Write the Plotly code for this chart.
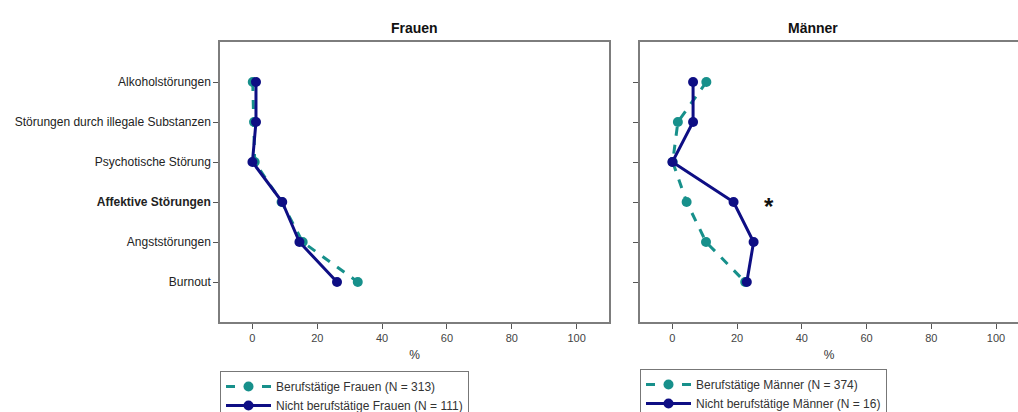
import plotly.graph_objects as go

categories = ["Alkoholstörungen", "Störungen durch illegale Substanzen", "Psychotische Störung",
              "Affektive Störungen", "Angststörungen", "Burnout"]
tick_labels = ["Alkoholstörungen", "Störungen durch illegale Substanzen", "Psychotische Störung",
               "<b>Affektive Störungen</b>", "Angststörungen", "Burnout"]
x_ticks = [0, 20, 40, 60, 80, 100]

frauen_beruf = [0.1, 0.5, 0.7, 9.0, 15.5, 32.5]
frauen_nicht = [1.1, 1.1, 0.0, 9.2, 14.5, 26.1]
maenner_beruf = [10.5, 1.7, 0.1, 4.4, 10.4, 22.5]
maenner_nicht = [6.4, 6.4, 0.0, 18.9, 25.1, 23.0]

names_f = ["Berufstätige Frauen (N = 313)", "Nicht berufstätige Frauen (N = 111)"]
names_m = ["Berufstätige Männer (N = 374)", "Nicht berufstätige Männer (N = 16)"]

TEAL = "#17908b"
NAVY = "#0e0e84"
W, H = 1018, 412
FONT = "Liberation Sans, Arial, sans-serif"

ypos = list(range(len(categories)))

fig = go.Figure()

def add(xv, name, color, dash, xa, ya, leg):
    fig.add_trace(go.Scatter(
        x=xv, y=ypos, mode="lines+markers", name=name,
        line=dict(color=color, width=3, dash=dash),
        marker=dict(color=color, size=10),
        xaxis=xa, yaxis=ya, legend=leg))

add(frauen_beruf, names_f[0], TEAL, "dash", "x", "y", "legend")
add(frauen_nicht, names_f[1], NAVY, "solid", "x", "y", "legend")
add(maenner_beruf, names_m[0], TEAL, "dash", "x2", "y2", "legend2")
add(maenner_nicht, names_m[1], NAVY, "solid", "x2", "y2", "legend2")

top, bottom = 42, 322
ph = bottom - top

def px(x):
    return x / W

def py(y):
    return (bottom - y) / ph

axis_line = dict(showline=True, linecolor="#7d7d7d", linewidth=1.5, ticks="outside",
                 ticklen=5, tickcolor="#555", showgrid=False, zeroline=False)
xfont = dict(family=FONT, size=11, color="#444")
yfont = dict(family=FONT, size=12, color="#222")

fig.update_layout(
    width=W, height=H, plot_bgcolor="white", paper_bgcolor="white",
    margin=dict(l=0, r=0, t=top, b=H - bottom, autoexpand=False),
    font=dict(family=FONT, size=11, color="#222"),
    xaxis=dict(domain=[px(220), px(609)], range=[-10, 110], tickvals=x_ticks, mirror=True,
               tickfont=xfont,
               title=dict(text="%", font=dict(family=FONT, size=12, color="#333"), standoff=8),
               automargin=False, **axis_line),
    yaxis=dict(domain=[0, 1], range=[6, -1], tickvals=ypos, ticktext=tick_labels, mirror=True,
               tickfont=yfont, automargin=False, **axis_line),
    xaxis2=dict(domain=[px(640), 1.0], range=[-10, (1018 - 672) / 3.24], tickvals=x_ticks,
                mirror=True, anchor="y2", tickfont=xfont,
                title=dict(text="%", font=dict(family=FONT, size=12, color="#333"), standoff=8),
                automargin=False, **axis_line),
    yaxis2=dict(domain=[0, 1], range=[6, -1], tickvals=ypos, showticklabels=False, anchor="x2",
                automargin=False, **axis_line),
    legend=dict(x=px(220), y=py(371), xanchor="left", yanchor="top",
                bordercolor="#777", borderwidth=1, bgcolor="white",
                font=dict(family=FONT, size=12, color="#333"), tracegroupgap=0,
                itemwidth=45),
    legend2=dict(x=px(640), y=py(369), xanchor="left", yanchor="top",
                 bordercolor="#777", borderwidth=1, bgcolor="white",
                 font=dict(family=FONT, size=12, color="#333"), tracegroupgap=0,
                 itemwidth=45),
    showlegend=True,
)

fig.add_annotation(x=414 / W, y=py(18), xref="paper", yref="paper", text="<b>Frauen</b>",
                   showarrow=False, font=dict(family=FONT, size=14, color="#111"))
fig.add_annotation(x=840 / W, y=py(18), xref="paper", yref="paper", text="<b>Männer</b>",
                   showarrow=False, font=dict(family=FONT, size=14, color="#111"))
fig.add_annotation(x=30, y=3, xref="x2", yref="y2", text="<b>*</b>", showarrow=False,
                   font=dict(family=FONT, size=24, color="#111"), yshift=-4)

fig.write_html("out.html")
